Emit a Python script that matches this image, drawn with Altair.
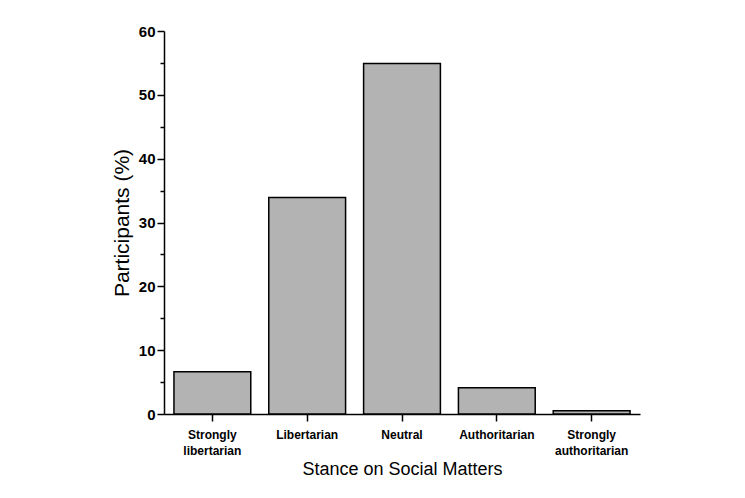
import altair as alt
import pandas as pd

categories = ["Strongly libertarian", "Libertarian", "Neutral", "Authoritarian", "Strongly authoritarian"]
values = [6.6, 33.9, 54.9, 4.1, 0.5]
major_ticks = [0, 10, 20, 30, 40, 50, 60]
minor_ticks = [5, 15, 25, 35, 45, 55]

df = pd.DataFrame({"stance": categories, "pct": values})
minor_df = pd.DataFrame({"v": minor_ticks})

font = "Liberation Sans"

x_enc = alt.X("stance:N", sort=categories,
              scale=alt.Scale(paddingInner=0.19, paddingOuter=0.105),
              axis=alt.Axis(title="Stance on Social Matters", labelAngle=0,
                            labelExpr="split(datum.label, ' ')",
                            labelFont=font, labelFontWeight="bold", labelFontSize=12,
                            labelLineHeight=16, labelColor="black", labelPadding=8,
                            tickSize=7, tickColor="black", tickWidth=1.5,
                            domainColor="black", domainWidth=1.5,
                            titleFont=font, titleFontWeight="normal", titleFontSize=18,
                            titleColor="black", titlePadding=4))

bars = alt.Chart(df).mark_bar(color="#b3b3b3", stroke="black", strokeWidth=1.5).encode(
    x=x_enc,
    y=alt.Y("pct:Q", scale=alt.Scale(domain=[0, 60], nice=False),
            axis=alt.Axis(title="Participants (%)", values=major_ticks, grid=False,
                          labelFont=font, labelFontWeight="bold", labelFontSize=15,
                          labelColor="black", labelPadding=2,
                          tickSize=7, tickColor="black", tickWidth=1.5,
                          domainColor="black", domainWidth=1.5,
                          titleFont=font, titleFontWeight="normal", titleFontSize=21,
                          titleColor="black", titlePadding=6)),
)

minor = alt.Chart(minor_df).mark_point(opacity=0).encode(
    y=alt.Y("v:Q", scale=alt.Scale(domain=[0, 60], nice=False),
            axis=alt.Axis(title=None, orient="left", values=minor_ticks, labels=False,
                          domain=False, grid=False, tickSize=4, tickColor="black",
                          tickWidth=1.5)),
)

chart = alt.layer(bars, minor).resolve_axis(y="independent").properties(
    width=476, height=383,
    autosize=alt.AutoSizeParams(type="none"),
    padding={"left": 156, "top": 23, "right": 90, "bottom": 70},
    background="white",
).configure_view(stroke=None)

chart.save("out.html", embed_options={"renderer": "svg", "actions": False})
